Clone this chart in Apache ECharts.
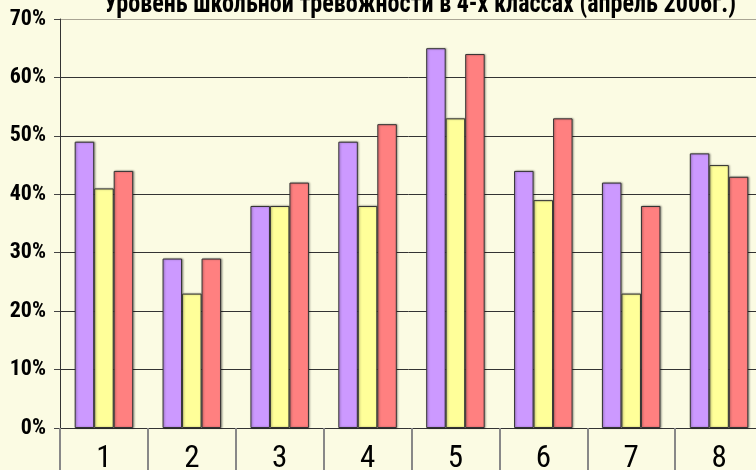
<!DOCTYPE html>
<html><head><meta charset="utf-8">
<script src="https://cdn.jsdelivr.net/npm/echarts@6/dist/echarts.min.js"></script>
<style>html,body{margin:0;padding:0;background:#FBFBE3}#c{width:756px;height:470px}</style>
</head><body><div id="c"></div>
<script>
const titleText = 'Уровень школьной тревожности в 4-х классах (апрель 2006г.)';
const categories = ['1','2','3','4','5','6','7','8'];
const seriesA = [49, 29, 38, 49, 65, 44, 42, 47];
const seriesB = [41, 23, 38, 38, 53, 39, 23, 45];
const seriesC = [44, 29, 42, 52, 64, 53, 38, 43];
const yTicks = [0, 10, 20, 30, 40, 50, 60, 70];

const chart = echarts.init(document.getElementById('c'), null, {renderer: 'canvas'});
const barStyle = (color) => ({
  color: color, borderColor: '#333', borderWidth: 1,
  shadowColor: 'rgba(0,0,0,0.35)', shadowBlur: 2, shadowOffsetX: 1, shadowOffsetY: 0
});
const narrow = '"Roboto Condensed", sans-serif';
chart.setOption({
  backgroundColor: '#FBFBE3',
  animation: false,
  graphic: [{
    type: 'text', x: 420, y: 5, scaleX: 0.86, z: 100,
    style: {
      text: titleText, fill: '#000', align: 'center', verticalAlign: 'middle',
      font: 'bold 28px "Roboto Condensed", sans-serif'
    }
  }],
  grid: {left: 60, top: 19, width: 703, height: 409, containLabel: false, outerBoundsMode: 'none'},
  xAxis: {
    type: 'category', data: categories,
    axisLine: {lineStyle: {color: '#333', width: 1}},
    axisTick: {show: true, length: 42, alignWithLabel: false, lineStyle: {color: '#888', width: 2}},
    axisLabel: {fontFamily: narrow, fontSize: 31, color: '#000', margin: 16}
  },
  yAxis: {
    type: 'value', min: 0, max: 70, interval: 10,
    axisLine: {show: true, lineStyle: {color: '#333'}},
    axisTick: {show: true, length: 6, lineStyle: {color: '#444'}},
    splitLine: {lineStyle: {color: ['#333','#333','#333','#333','#333','#333','#333','#a8a494'], width: 1}},
    axisLabel: {
      formatter: (v) => yTicks.includes(v) ? v + '%' : '',
      fontFamily: narrow, fontWeight: 'bold', fontSize: 22, color: '#000', margin: 14,
      padding: [5, 0, 0, 0]
    }
  },
  series: [
    {type: 'bar', data: seriesA, barWidth: 19.5, barGap: '0%', itemStyle: barStyle('#CC99FF')},
    {type: 'bar', data: seriesB, barWidth: 19.5, barGap: '0%', itemStyle: barStyle('#FFFF99')},
    {type: 'bar', data: seriesC, barWidth: 19.5, barGap: '0%', itemStyle: barStyle('#FF8080')}
  ]
});
</script></body></html>
